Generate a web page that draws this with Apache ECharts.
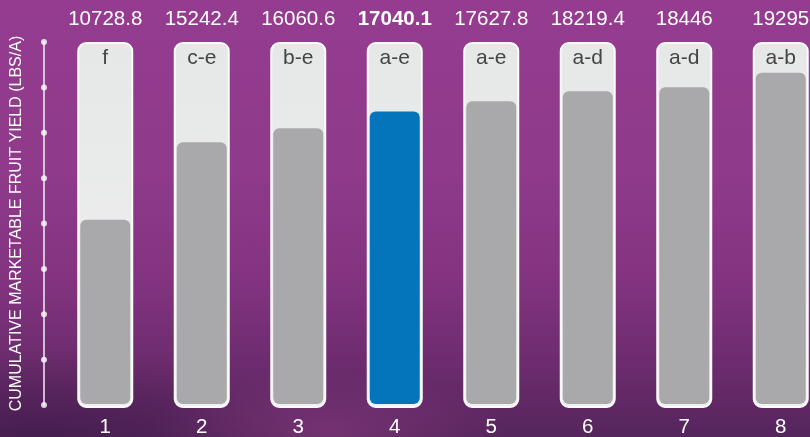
<!DOCTYPE html>
<html>
<head>
<meta charset="utf-8">
<script src="https://cdn.jsdelivr.net/npm/echarts@6/dist/echarts.min.js"></script>
<style>
  html, body { margin: 0; padding: 0; }
  #main {
    width: 810px; height: 437px;
    background:
      radial-gradient(ellipse 180px 60px at 330px 430px, rgba(140,60,130,0.55), rgba(140,60,130,0) 100%),
      radial-gradient(ellipse 260px 90px at 40px 437px, rgba(60,25,70,0.6), rgba(60,25,70,0) 100%),
      linear-gradient(180deg, #953c90 0%, #8f3a8b 40%, #82337f 65%, #6a2b6c 85%, #55255d 100%);
  }
</style>
</head>
<body>
<div id="main"></div>
<script>
var categories = ['1', '2', '3', '4', '5', '6', '7', '8'];
var yieldValues = [10728.8, 15242.4, 16060.6, 17040.1, 17627.8, 18219.4, 18446, 19295];
var valueLabels = ['10728.8', '15242.4', '16060.6', '17040.1', '17627.8', '18219.4', '18446', '19295'];
var letters = ['f', 'c-e', 'b-e', 'a-e', 'a-e', 'a-d', 'a-d', 'a-b'];
var tubeFull = [1, 1, 1, 1, 1, 1, 1, 1];
var yDots = [0, 1, 2, 3, 4, 5, 6, 7, 8];
var highlight = 3;

var chart = echarts.init(document.getElementById('main'));

var option = {
  animation: false,
  textStyle: { fontFamily: 'Liberation Sans, Arial, sans-serif' },
  grid: [
    { left: 57, top: 42, width: 772, height: 366, outerBoundsMode: 'none' },
    { left: 57, top: 40, width: 772, height: 364, outerBoundsMode: 'none' },
    { left: 44, top: 42, width: 10, height: 363, outerBoundsMode: 'none' }
  ],
  xAxis: [
    {
      type: 'category', gridIndex: 0, data: categories, position: 'bottom',
      axisLine: { show: false }, axisTick: { show: false },
      axisLabel: { color: '#fff', fontSize: 20.5, margin: 9 }
    },
    {
      type: 'category', gridIndex: 0, data: categories, position: 'top',
      axisLine: { show: false }, axisTick: { show: false },
      axisLabel: {
        margin: 12,
        formatter: function (v, i) {
          return i === highlight ? '{b|' + valueLabels[i] + '}' : '{n|' + valueLabels[i] + '}';
        },
        rich: {
          n: { color: '#fff', fontSize: 20.5 },
          b: { color: '#fff', fontSize: 20.5, fontWeight: 'bold' }
        }
      }
    },
    { type: 'category', gridIndex: 1, data: categories, show: false },
    { type: 'value', gridIndex: 2, min: 0, max: 1, show: false }
  ],
  yAxis: [
    { type: 'value', gridIndex: 0, min: 0, max: 1, show: false },
    { type: 'value', gridIndex: 1, min: 0, max: 21200, show: false },
    {
      type: 'value', gridIndex: 2, min: 0, max: 8, interval: 1,
      name: 'CUMULATIVE MARKETABLE FRUIT YIELD (LBS/A)',
      nameLocation: 'middle', nameRotate: 90, nameGap: 19,
      nameTextStyle: { color: '#fff', fontSize: 16 },
      axisLine: { show: true, lineStyle: { color: '#f4eef4', width: 1.5 } },
      axisTick: { show: false }, axisLabel: { show: false }, splitLine: { show: false }
    }
  ],
  series: [
    {
      type: 'bar', xAxisIndex: 0, yAxisIndex: 0, data: tubeFull,
      barWidth: 56,
      itemStyle: {
        color: new echarts.graphic.LinearGradient(0, 0, 0, 1, [
          { offset: 0, color: '#e6e7e7' },
          { offset: 1, color: '#eff0ef' }
        ]),
        borderColor: '#fbfbfb', borderWidth: 2,
        borderRadius: [8, 8, 8, 8]
      },
      label: {
        show: true, position: 'insideTop', distance: 6,
        color: '#444', fontSize: 21,
        formatter: function (p) { return letters[p.dataIndex]; }
      }
    },
    {
      type: 'bar', xAxisIndex: 2, yAxisIndex: 1,
      data: yieldValues.map(function (v, i) {
        return { value: v, itemStyle: { color: i === highlight ? '#0474bb' : '#a9a8aa' } };
      }),
      barWidth: 50,
      itemStyle: { borderRadius: [6, 6, 6, 6] }
    },
    {
      type: 'scatter', xAxisIndex: 3, yAxisIndex: 2, clip: false,
      data: yDots.map(function (d) { return [0, d]; }),
      symbolSize: 6,
      itemStyle: { color: '#fff' }
    }
  ]
};

chart.setOption(option);
</script>
</body>
</html>
